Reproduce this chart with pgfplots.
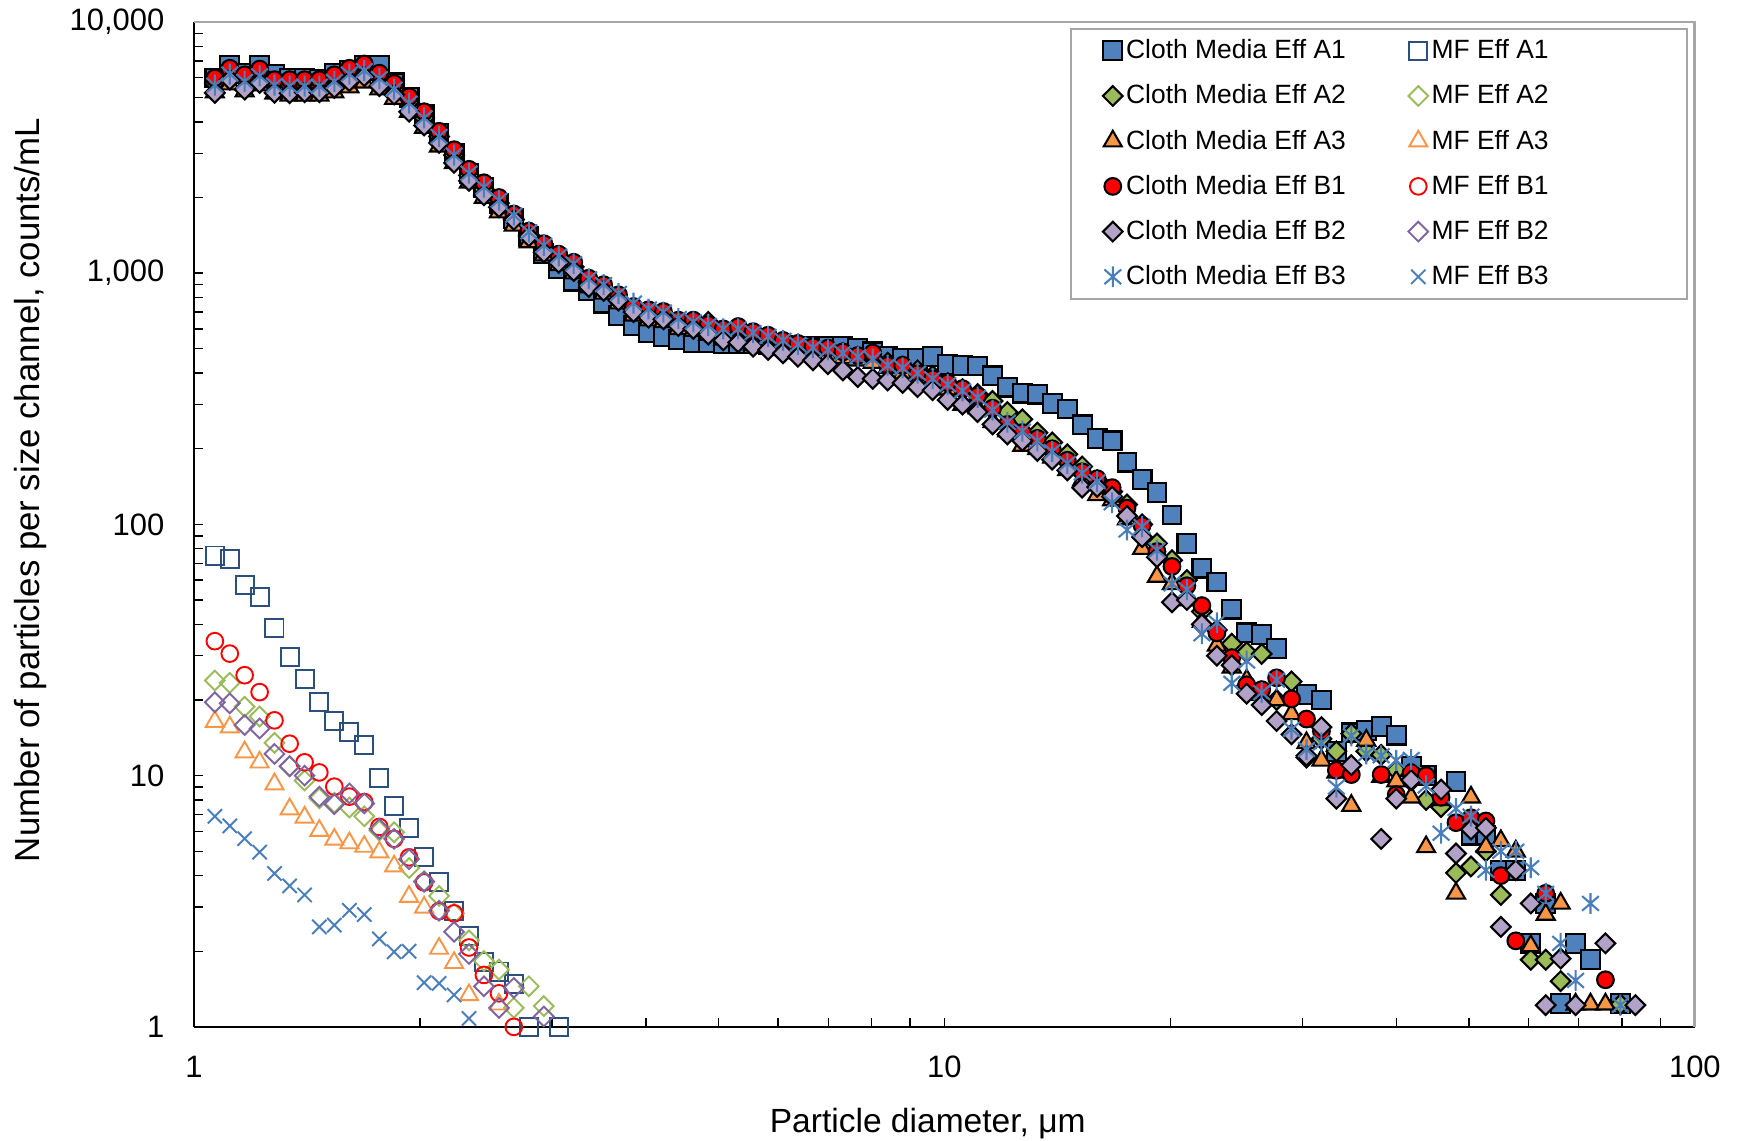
\documentclass[border=0pt]{standalone}
\usepackage{pgfplots}
\pgfplotsset{compat=1.18}
\usepackage{pgfplotstable}
\usepackage{fontspec}
\setmainfont{Liberation Sans}
\definecolor{cA1}{HTML}{4F81BD}
\definecolor{mA1}{HTML}{2C4F7C}
\definecolor{cA2}{HTML}{9BBB59}
\definecolor{cA3}{HTML}{F79646}
\definecolor{cB1}{HTML}{FF0000}
\definecolor{cB2}{HTML}{B3A2C7}
\definecolor{mB2}{HTML}{8064A2}
\definecolor{cB3}{HTML}{4A7EBB}
\definecolor{frame}{HTML}{A6A6A6}

\pgfdeclareplotmark{ast}{%
  \pgfpathmoveto{\pgfqpoint{0pt}{\pgfplotmarksize}}%
  \pgfpathlineto{\pgfqpoint{0pt}{-\pgfplotmarksize}}%
  \pgfpathmoveto{\pgfqpoint{-.8\pgfplotmarksize}{-.7\pgfplotmarksize}}%
  \pgfpathlineto{\pgfqpoint{.8\pgfplotmarksize}{.7\pgfplotmarksize}}%
  \pgfpathmoveto{\pgfqpoint{-.8\pgfplotmarksize}{.7\pgfplotmarksize}}%
  \pgfpathlineto{\pgfqpoint{.8\pgfplotmarksize}{-.7\pgfplotmarksize}}%
  \pgfusepathqstroke}

% Cloth media effluent, counts per channel
\pgfplotstableread{
x A1 A2 A3 B1 B2 B3
1.066 5980 5700 5250 5980 5220 5600
1.116 6740 6300 5650 6540 5890 6200
1.168 6250 5900 5300 6160 5380 5800
1.223 6740 6300 5600 6490 5720 6100
1.280 6160 5700 5200 5890 5220 5600
1.341 5980 5600 5100 5890 5200 5550
1.404 5980 5600 5100 5890 5250 5550
1.469 5890 5600 5100 5890 5250 5550
1.538 6250 5900 5250 6160 5460 5800
1.611 6440 6200 5500 6540 5810 6200
1.686 6740 6500 5750 6800 6080 6400
1.766 6740 6000 5400 6250 5550 5950
1.848 5720 5400 4950 5690 5140 5400
1.935 5000 4800 4400 5040 4390 4750
2.026 4300 4150 3800 4390 3870 4150
2.121 3600 3500 3200 3670 3300 3500
2.221 3000 2950 2750 3100 2750 2950
2.325 2500 2450 2300 2590 2330 2500
2.434 2200 2150 2000 2290 2040 2200
2.549 1900 1900 1750 2000 1830 1950
2.668 1650 1640 1550 1720 1630 1700
2.794 1400 1420 1330 1470 1400 1460
2.925 1200 1260 1180 1310 1210 1290
3.062 1040 1150 1080 1190 1100 1170
3.206 930 1060 1000 1105 1020 1090
3.357 850 920 880 955 880 950
3.514 760 870 830 900 850 900
3.679 680 790 760 820 778 830
3.852 620 720 680 737 700 760
4.033 580 690 650 715 665 720
4.222 560 680 640 704 655 700
4.420 545 640 600 650 616 660
4.628 530 630 590 650 600 640
4.845 530 640 570 625 570 620
5.073 525 590 545 600 540 600
5.311 525 590 545 613 530 600
5.560 525 570 520 585 510 580
5.821 520 555 505 566 495 560
6.094 515 535 495 540 480 540
6.380 511 520 480 525 465 520
6.680 511 505 475 510 450 505
6.993 511 495 470 503 434 495
7.322 511 480 460 486 410 480
7.665 500 465 450 470 386 465
8.025 486 460 440 481 380 455
8.402 467 440 420 430 374 430
8.796 457 425 400 430 366 420
9.209 457 410 380 398 352 400
9.643 467 390 370 380 342 380
10.10 434 365 345 366 313 360
10.57 430 345 300 347 300 340
11.07 427 330 290 325 280 320
11.59 390 310 256 290 250 285
12.13 352 280 235 250 228 255
12.70 333 262 206 232 215 235
13.30 330 232 200 220 196 215
13.92 303 212 185 200 181 195
14.58 288 190 165 180 164 175
15.26 249 170 150 162 140 160
15.98 220 150 131 152 141 148
16.73 215 135 125 140 129 122
17.51 177 120 105 116 108 95
18.34 151 100 80 99 89 98
19.20 134 84 62 78 74 79
20.10 109 72 58 68 49 58
21.04 84 60 50 57 50 55
22.03 67 45 41 47.5 40 36.7
23.07 59 38 33 37 30 40.6
24.15 46 33.5 27 29.5 27.5 23.3
25.28 37 31 24 23 21.2 28.6
26.47 36.5 30.5 21 22 19.1 21.4
27.71 32 20 20 24.5 16.5 24
29.01 nan 23.7 17.6 20.2 14.6 15.3
30.37 21 11.8 13.5 16.8 12 12.7
31.80 20 14 11.5 15 15.6 13.5
33.29 12.5 12.5 10.3 10.5 8.1 9.0
34.85 14.8 14.7 7.6 10.1 11.0 14.4
36.49 15.1 12.5 13.8 nan nan 12.2
38.20 15.7 12.1 9.9 10.1 5.6 12.0
40.00 14.5 10.5 9.5 8.4 8.1 11.5
41.88 10.9 9.5 8.2 10.3 9.6 11.6
43.84 10.0 8.0 5.2 10.0 nan 9.1
45.90 nan 7.5 8.0 8.2 8.8 5.9
48.05 9.5 4.1 3.4 6.5 4.9 7.4
50.31 5.8 4.35 8.2 6.8 6.1 6.9
52.67 5.8 5.0 5.2 6.6 6.2 4.2
55.14 4.2 3.35 5.5 4.0 2.5 5.0
57.73 4.2 nan 5.0 2.2 4.2 5.0
60.44 2.15 1.85 2.1 nan 3.1 4.3
63.28 3.1 1.85 2.8 3.4 1.22 3.4
66.25 1.24 1.52 3.1 nan 1.87 2.15
69.36 2.15 nan 1.23 nan 1.22 1.53
72.61 1.86 nan 1.23 nan nan 3.1
76.02 nan nan 1.23 1.54 2.15 nan
79.59 1.24 1.23 nan nan nan 1.22
83.33 nan nan nan nan 1.22 nan
}\cloth

% MF effluent, counts per channel
\pgfplotstableread{
x A1 A2 A3 B1 B2 B3
1.066 75.2 23.9 16.4 34.3 19.6 6.89
1.116 72.8 23.4 15.6 30.6 19.4 6.31
1.168 57.3 18.8 12.4 25.1 15.9 5.61
1.223 51.3 17.2 11.3 21.5 15.4 4.96
1.280 38.8 13.5 9.25 16.6 12.2 4.08
1.341 29.6 10.9 7.36 13.4 10.9 3.64
1.404 24.3 9.56 6.82 11.3 10.0 3.35
1.469 19.6 8.12 6.04 10.3 8.25 2.50
1.538 16.5 7.8 5.57 9.04 7.7 2.54
1.611 14.9 7.47 5.39 8.25 8.5 2.91
1.686 13.2 6.89 5.22 7.85 7.75 2.80
1.766 9.8 6.04 4.96 6.25 6.14 2.24
1.848 7.6 5.95 4.36 5.6 5.6 1.99
1.935 6.2 4.29 3.3 4.73 4.65 2.0
2.026 4.76 3.8 2.99 3.76 3.78 1.5
2.121 3.78 3.32 2.05 2.89 2.9 1.49
2.221 2.89 2.83 1.80 2.83 2.39 1.34
2.325 2.30 2.21 1.34 2.07 1.95 1.08
2.434 1.81 1.83 nan 1.61 1.45 nan
2.549 1.66 1.69 1.23 1.36 1.19 nan
2.668 1.48 1.19 nan 1.0 1.43 nan
2.794 1.0 1.45 nan nan nan nan
2.925 nan 1.21 nan nan 1.1 nan
3.062 1.0 nan nan nan nan nan
}\mf

\begin{document}
\begin{tikzpicture}
\begin{axis}[
  scale only axis, width=431.6pt, height=289pt,
  xmode=log, ymode=log, xmin=1, xmax=100, ymin=1, ymax=10000,
  clip=false,
  axis x line*=bottom, axis y line*=left,
  axis line style={black, line width=0.5pt},
  tick align=inside,
  major tick length=2.7pt, minor tick length=2.7pt,
  tick style={black, line width=0.4pt},
  xtick={1,10,100}, xticklabels={1,10,100},
  ytick={1,10,100,1000,10000}, yticklabels={1,10,100,{1,000},{10,000}},
  ticklabel style={font=\fontsize{8.9}{10}\selectfont},
  xticklabel style={yshift=-4.8pt},
  yticklabel style={xshift=-5pt},
  label style={font=\fontsize{9.65}{11}\selectfont},
  xlabel={Particle diameter, μm},
  ylabel={Number of particles per size channel, counts/mL},
  xlabel style={yshift=-2pt, xshift=-4.8pt},
  every axis y label/.style={at={(rel axis cs:0,0.5)}, xshift=-47pt, yshift=9.9pt, rotate=90, anchor=center},
  legend columns=2,
  legend cell align=left,
  legend image code/.code={\draw[mark repeat=2,mark phase=2,#1] plot coordinates {(0pt,0pt) (3pt,0pt) (6pt,0pt)};},
  legend style={at={(rel axis cs:1,1)}, anchor=north east, xshift=-2pt, yshift=-1.7pt,
    draw=frame, line width=0.6pt, fill=white,
    font=\fontsize{7.6}{9}\selectfont,
    inner xsep=9.1pt, inner ysep=1.55pt, column sep=0pt, row sep=3.5pt,
    nodes={inner xsep=1pt, inner ysep=1pt, text height=6pt, text depth=1.5pt}},
]
\addplot[only marks, mark=square*, mark size=2.7pt, draw=black, fill=cA1, line width=0.6pt] table[x=x, y=A1] {\cloth};
\addlegendentry{\makebox[80.2pt][l]{Cloth Media Eff A1}}
\addplot[only marks, mark=square, mark size=2.6pt, draw=mA1, line width=0.55pt] table[x=x, y=A1] {\mf};
\addlegendentry{\makebox[63.3pt][l]{MF Eff A1}}
\addplot[only marks, mark=square*, mark size=2.0pt, mark options={rotate=45}, draw=black, fill=cA2, line width=0.6pt] table[x=x, y=A2] {\cloth};
\addlegendentry{\makebox[80.2pt][l]{Cloth Media Eff A2}}
\addplot[only marks, mark=square, mark size=2.0pt, mark options={rotate=45}, draw=cA2, line width=0.55pt] table[x=x, y=A2] {\mf};
\addlegendentry{\makebox[63.3pt][l]{MF Eff A2}}
\addplot[only marks, mark=triangle*, mark size=3.0pt, draw=black, fill=cA3, line width=0.6pt] table[x=x, y=A3] {\cloth};
\addlegendentry{\makebox[80.2pt][l]{Cloth Media Eff A3}}
\addplot[only marks, mark=triangle, mark size=3.0pt, draw=cA3, line width=0.55pt] table[x=x, y=A3] {\mf};
\addlegendentry{\makebox[63.3pt][l]{MF Eff A3}}
\addplot[only marks, mark=*, mark size=2.4pt, draw=black, fill=cB1, line width=0.6pt] table[x=x, y=B1] {\cloth};
\addlegendentry{\makebox[80.2pt][l]{Cloth Media Eff B1}}
\addplot[only marks, mark=o, mark size=2.4pt, draw=cB1, line width=0.55pt] table[x=x, y=B1] {\mf};
\addlegendentry{\makebox[63.3pt][l]{MF Eff B1}}
\addplot[only marks, mark=square*, mark size=2.0pt, mark options={rotate=45}, draw=black, fill=cB2, line width=0.6pt] table[x=x, y=B2] {\cloth};
\addlegendentry{\makebox[80.2pt][l]{Cloth Media Eff B2}}
\addplot[only marks, mark=square, mark size=2.0pt, mark options={rotate=45}, draw=mB2, line width=0.55pt] table[x=x, y=B2] {\mf};
\addlegendentry{\makebox[63.3pt][l]{MF Eff B2}}
\addplot[only marks, mark=ast, mark size=3.0pt, draw=cB3, line width=0.6pt] table[x=x, y=B3] {\cloth};
\addlegendentry{\makebox[80.2pt][l]{Cloth Media Eff B3}}
\addplot[only marks, mark=x, mark size=2.9pt, draw=cB3, line width=0.55pt] table[x=x, y=B3] {\mf};
\addlegendentry{\makebox[63.3pt][l]{MF Eff B3}}
\draw[frame, line width=0.8pt] (rel axis cs:0,1) -- (rel axis cs:1,1) -- (rel axis cs:1,0);
\end{axis}
\pgfresetboundingbox
\path[use as bounding box] ([xshift=-55.8pt,yshift=-32.8pt]current axis.south west) rectangle ([xshift=12.7pt,yshift=6.3pt]current axis.north east);
\end{tikzpicture}
\end{document}
